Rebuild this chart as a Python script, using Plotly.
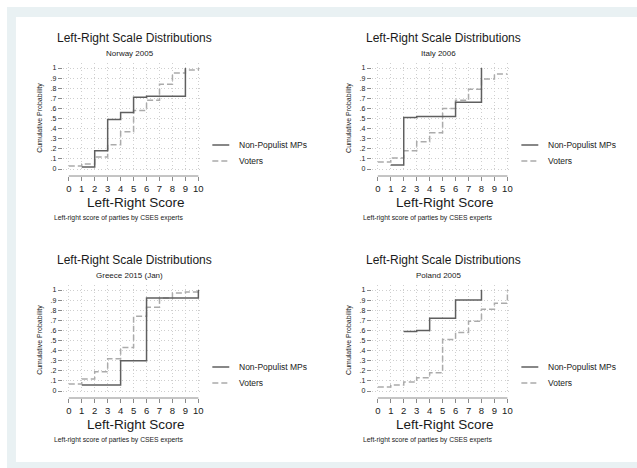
import plotly.graph_objects as go

# ---------------- data ----------------
scores = [0, 1, 2, 3, 4, 5, 6, 7, 8, 9, 10]
y_ticks = [0, 0.1, 0.2, 0.3, 0.4, 0.5, 0.6, 0.7, 0.8, 0.9, 1.0]
y_tick_labels = ["0", ".1", ".2", ".3", ".4", ".5", ".6", ".7", ".8", ".9", "1"]

countries = ["Norway 2005", "Italy 2006", "Greece 2015 (Jan)", "Poland 2005"]

norway_mp_x = [1, 2, 3, 4, 5, 6, 9]
norway_mp_y = [0.02, 0.18, 0.49, 0.56, 0.71, 0.72, 1.0]
norway_voter_y = [0.03, 0.05, 0.12, 0.24, 0.37, 0.58, 0.68, 0.84, 0.95, 0.98, 1.0]

italy_mp_x = [1, 2, 3, 6, 8]
italy_mp_y = [0.04, 0.51, 0.52, 0.66, 1.0]
italy_voter_y = [0.07, 0.11, 0.18, 0.27, 0.36, 0.60, 0.68, 0.79, 0.89, 0.94, 0.94]

greece_mp_x = [1, 4, 6, 10]
greece_mp_y = [0.06, 0.30, 0.92, 1.0]
greece_voter_y = [0.07, 0.12, 0.19, 0.32, 0.43, 0.74, 0.83, 0.92, 0.97, 0.98, 1.0]

poland_mp_x = [2, 3, 4, 6, 8]
poland_mp_y = [0.59, 0.60, 0.72, 0.90, 1.0]
poland_voter_y = [0.04, 0.06, 0.09, 0.13, 0.18, 0.51, 0.58, 0.69, 0.81, 0.87, 1.0]

mp_x = [norway_mp_x, italy_mp_x, greece_mp_x, poland_mp_x]
mp_y = [norway_mp_y, italy_mp_y, greece_mp_y, poland_mp_y]
voter_y = [norway_voter_y, italy_voter_y, greece_voter_y, poland_voter_y]

main_title = "Left-Right Scale Distributions"
x_title = "Left-Right Score"
y_title = "Cumulative Probability"
note = "Left-right score of parties by CSES experts"
legend_labels = ["Non-Populist MPs", "Voters"]

# ---------------- layout helpers ----------------
W, H = 637, 468
FONT = "Liberation Sans, Arial, Helvetica, sans-serif"
MP_COLOR = "#5f5f5f"
VOTER_COLOR = "#ababab"
GRID = "#cfcfcf"
AXIS = "#8a8a8a"
TXT = "#1a1a1a"


def fx(px):
    return px / W


def fy(py):
    return 1 - py / H


offsets = [(0, 0), (310, 0), (0, 222), (310, 222)]

fig = go.Figure()
layout = dict(
    width=W, height=H,
    margin=dict(l=0, r=0, t=0, b=0, pad=0),
    paper_bgcolor="white", plot_bgcolor="white",
    showlegend=False, hovermode=False,
    font=dict(family=FONT, color=TXT),
)
shapes = [
    dict(type="rect", xref="paper", yref="paper", x0=fx(7), x1=fx(640), y0=fy(471), y1=fy(7),
         fillcolor="#e9f1f3", line=dict(width=0), layer="below"),
    dict(type="rect", xref="paper", yref="paper", x0=fx(16), x1=fx(640), y0=fy(462), y1=fy(17),
         fillcolor="white", line=dict(width=0), layer="below"),
]
annotations = []

xr = [(63 - 69) / 13, 10 + (202 - 199) / 13]
yr = [-(172 - 169) / 101, 1 + (68 - 63) / 101]

for i, (ox, oy) in enumerate(offsets):
    n = "" if i == 0 else str(i + 1)
    xa, ya = "x" + n, "y" + n
    layout["xaxis" + n] = dict(
        domain=[fx(63 + ox), fx(202 + ox)], range=xr, anchor="free", position=fy(176 + oy),
        tickvals=scores, ticktext=[str(s) for s in scores], ticks="outside", ticklen=4,
        tickcolor=AXIS, tickwidth=1, showline=False, zeroline=False,
        showgrid=True, gridcolor=GRID, griddash="1px,2.5px", gridwidth=1,
        tickfont=dict(size=9.5, color=TXT), fixedrange=True,
    )
    layout["yaxis" + n] = dict(
        domain=[fy(172 + oy), fy(63 + oy)], range=yr, anchor=xa,
        tickvals=y_ticks, ticktext=y_tick_labels, ticks="outside", ticklen=4,
        tickcolor=AXIS, tickwidth=1, showline=False, zeroline=False,
        showgrid=True, gridcolor=GRID, griddash="1px,2.5px", gridwidth=1,
        tickfont=dict(size=7, color=TXT), fixedrange=True,
    )
    fig.add_trace(go.Scatter(
        x=scores, y=voter_y[i], mode="lines", line=dict(shape="hv", color=VOTER_COLOR, width=1.5, dash="6px,3px"),
        xaxis=xa, yaxis=ya, name=legend_labels[1]))
    fig.add_trace(go.Scatter(
        x=mp_x[i], y=mp_y[i], mode="lines", line=dict(shape="hv", color=MP_COLOR, width=1.5),
        xaxis=xa, yaxis=ya, name=legend_labels[0]))

    # x axis line between first and last tick
    shapes.append(dict(type="line", xref=xa, yref="paper", x0=scores[0], x1=scores[-1],
                       y0=fy(176 + oy), y1=fy(176 + oy), line=dict(color=AXIS, width=1)))

    # titles
    annotations += [
        dict(text=main_title, x=fx(135 + ox), y=fy(38 + oy), xref="paper", yref="paper",
             showarrow=False, xanchor="center", yanchor="middle", font=dict(size=12, color=TXT)),
        dict(text=countries[i], x=fx(130 + ox), y=fy(53 + oy), xref="paper", yref="paper",
             showarrow=False, xanchor="center", yanchor="middle", font=dict(size=8, color=TXT)),
        dict(text=y_title, x=fx(40 + ox), y=fy(118 + oy), xref="paper", yref="paper", textangle=-90,
             showarrow=False, xanchor="center", yanchor="middle", font=dict(size=7, color=TXT)),
        dict(text=x_title, x=fx(136 + ox), y=fy(202 + oy), xref="paper", yref="paper",
             showarrow=False, xanchor="center", yanchor="middle", font=dict(size=13.5, color=TXT)),
        dict(text=note, x=fx(52 + ox), y=fy(218 + oy), xref="paper", yref="paper",
             showarrow=False, xanchor="left", yanchor="middle", font=dict(size=6.8, color=TXT)),
    ]
    # legend
    for k, (lab, col, dash, ly) in enumerate([(legend_labels[0], MP_COLOR, "solid", 145),
                                              (legend_labels[1], VOTER_COLOR, "6px,3px", 161)]):
        shapes.append(dict(type="line", xref="paper", yref="paper", x0=fx(213 + ox), x1=fx(230 + ox),
                           y0=fy(ly + oy), y1=fy(ly + oy), line=dict(color=col, width=1.5, dash=dash)))
        annotations.append(dict(text=lab, x=fx(238 + ox), y=fy(ly + oy), xref="paper", yref="paper",
                                showarrow=False, xanchor="left", yanchor="middle",
                                font=dict(size=8.5, color=TXT)))

layout["shapes"] = shapes
layout["annotations"] = annotations
fig.update_layout(**layout)
fig.write_html("out.html")
